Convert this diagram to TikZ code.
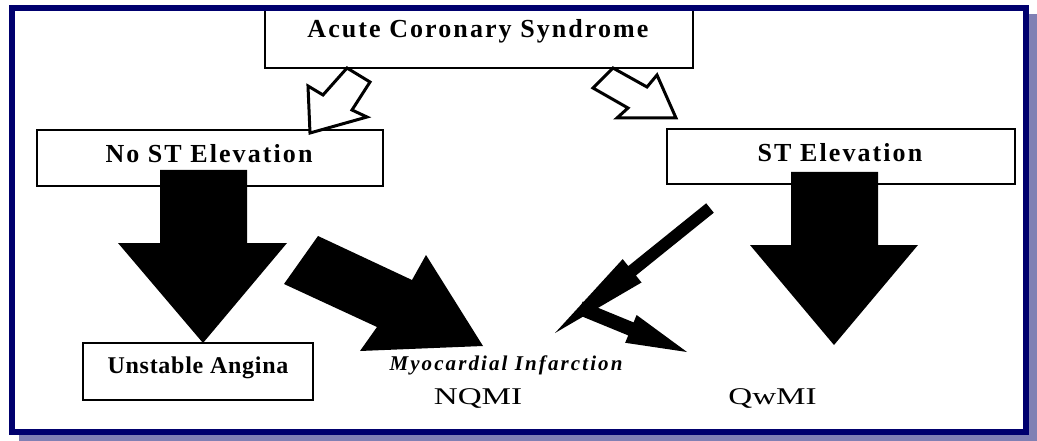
\documentclass[tikz,border=0pt]{standalone}
\usepackage{fontspec}
\setmainfont{Liberation Serif}
\definecolor{navy}{RGB}{0,0,110}
\definecolor{shadowc}{RGB}{128,128,180}
\newcommand\boxfont{\fontsize{26}{30}\selectfont\bfseries\addfontfeature{LetterSpace=8}}
\newcommand\smallboxfont{\fontsize{24}{28}\selectfont\bfseries\addfontfeature{LetterSpace=3}}
\newcommand\mifont{\fontsize{21}{25}\selectfont\bfseries\itshape\addfontfeature{LetterSpace=10}}
\newcommand\abbrfont{\fontsize{24}{28}\selectfont\addfontfeature{FakeStretch=1.38}}
\begin{document}
\begin{tikzpicture}[x=1pt,y=-1pt,
  box/.style={draw=black,line width=1.5pt,fill=white,inner sep=0pt},
  lbl/.style={anchor=base,inner sep=0pt},
  hollow/.style={draw=black,fill=white,line width=3pt,line join=miter},
  solidarrow/.style={fill=black,draw=none}]
\useasboundingbox (0,0) rectangle (1037,441);
\fill[white] (0,0) rectangle (1037,441);
% shadow and frame background
\fill[shadowc] (19,14) rectangle (1037,441);
\fill[white] (12,8) rectangle (1026,432);
% boxes
\node[box,minimum width=428pt,minimum height=59pt] (acs) at (479,38.5) {};
\node[box,minimum width=346pt,minimum height=56pt] (nost) at (210,158) {};
\node[box,minimum width=348pt,minimum height=55pt] (st) at (841,156.5) {};
\node[box,minimum width=230pt,minimum height=57pt] (ua) at (198,371.5) {};
% texts
\node[lbl] (acsT) at (478,38) {\boxfont Acute Coronary Syndrome};
\node[lbl] (nostT) at (209,163) {\boxfont No ST Elevation};
\node[lbl] (stT) at (840,162) {\boxfont ST Elevation};
\node[lbl] (uaT) at (198,373) {\smallboxfont Unstable Angina};
\node[lbl] (miT) at (506,370) {\mifont Myocardial Infarction};
\node[lbl] (nqmi) at (478,404) {\abbrfont NQMI};
\node[lbl] (qwmi) at (772.5,404) {\abbrfont QwMI};
% hollow arrows from ACS
\draw[hollow] (347,68) -- (370,82) -- (352,110) -- (367,117) -- (310,133) -- (308,86) -- (323,95) -- cycle;
\draw[hollow] (613,68) -- (593,88) -- (628,108) -- (617,118) -- (676,118) -- (657,75) -- (647,87) -- cycle;
% big solid arrows
\fill[solidarrow] (160,170) -- (247,170) -- (247,243) -- (287,243) -- (203,343) -- (118,243) -- (160,243) -- cycle;
\fill[solidarrow] (791,172) -- (878,172) -- (878,245) -- (918,245) -- (834,345) -- (750,245) -- (791,245) -- cycle;
\fill[solidarrow] (318,236) -- (412,280) -- (426,255) -- (483,346) -- (360,351) -- (377,327) -- (284,284) -- cycle;
% thin arrows
\fill[solidarrow] (706.2,203.3) -- (713.8,212.7) -- (635.9,275.5) -- (641.5,282.5) -- (555,333) -- (622.7,259.1) -- (628.3,266.1) -- cycle;
\fill[solidarrow] (582.7,301.5) -- (633.6,322.4) -- (636.6,315.0) -- (687,352) -- (625.2,342.8) -- (628.2,335.4) -- (577.3,314.5) -- cycle;
% frame
\draw[navy,line width=6pt] (12,8) rectangle (1026,432);
\end{tikzpicture}
\end{document}
